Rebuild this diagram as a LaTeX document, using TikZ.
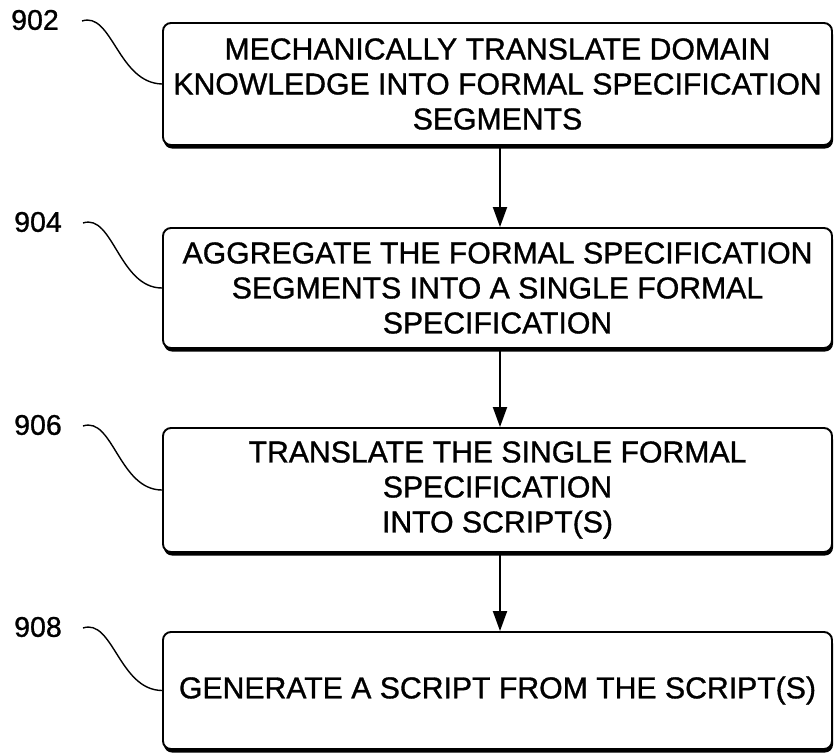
\documentclass[tikz,border=0pt]{standalone}
\usepackage{fontspec}
\setmainfont{Liberation Sans}[FakeBold=1.0]
\usetikzlibrary{arrows.meta,shadows}
\begin{document}
\begin{tikzpicture}[x=1pt,y=-1pt,
  stepbox/.style={draw=black, line width=1.9pt, rounded corners=8pt, fill=white,
    minimum width=669pt, align=center, inner sep=0pt,
    font=\fontsize{30.2}{35}\selectfont,
    drop shadow={shadow xshift=1pt, shadow yshift=-3.5pt, fill=black, opacity=1}},
  lbl/.style={font=\fontsize{28.5}{30}\selectfont, inner sep=0pt},
  lead/.style={line width=1.4pt},
  flow/.style={line width=1.9pt, -{Triangle[length=20pt,width=14pt]}}]
\useasboundingbox (0,0) rectangle (834,755);
\node[stepbox, minimum height=122pt] (b1) at (497.5,84)
  {MECHANICALLY TRANSLATE DOMAIN\\KNOWLEDGE INTO FORMAL SPECIFICATION\\SEGMENTS};
\node[stepbox, minimum height=120pt] (b2) at (497.5,288)
  {AGGREGATE THE FORMAL SPECIFICATION\\SEGMENTS INTO A SINGLE FORMAL\\SPECIFICATION};
\node[stepbox, minimum height=124pt] (b3) at (497.5,490)
  {TRANSLATE THE SINGLE FORMAL\\SPECIFICATION\\INTO SCRIPT(S)};
\node[stepbox, minimum height=117pt] (b4) at (497.5,690.5)
  {GENERATE A SCRIPT FROM THE SCRIPT(S)};
\node[lbl] (l1) at (35,20) {902};
\node[lbl] (l2) at (38,222) {904};
\node[lbl] (l3) at (38,425) {906};
\node[lbl] (l4) at (38,627) {908};
\coordinate (s1) at (82,21);
\coordinate (s2) at (83,223);
\coordinate (s3) at (83,426);
\coordinate (s4) at (83,628);
\draw[lead] (s1) .. controls (112,11) and (118,83) .. (b1.west);
\draw[lead] (s2) .. controls (113,213) and (119,288) .. (b2.west);
\draw[lead] (s3) .. controls (113,416) and (119,490) .. (b3.west);
\draw[lead] (s4) .. controls (113,618) and (119,690) .. (b4.west);
\draw[flow] ([xshift=2.5pt]b1.south) -- ([xshift=2.5pt]b2.north);
\draw[flow] ([xshift=2.5pt]b2.south) -- ([xshift=2.5pt]b3.north);
\draw[flow] ([xshift=2.5pt]b3.south) -- ([xshift=2.5pt]b4.north);
\end{tikzpicture}
\end{document}
